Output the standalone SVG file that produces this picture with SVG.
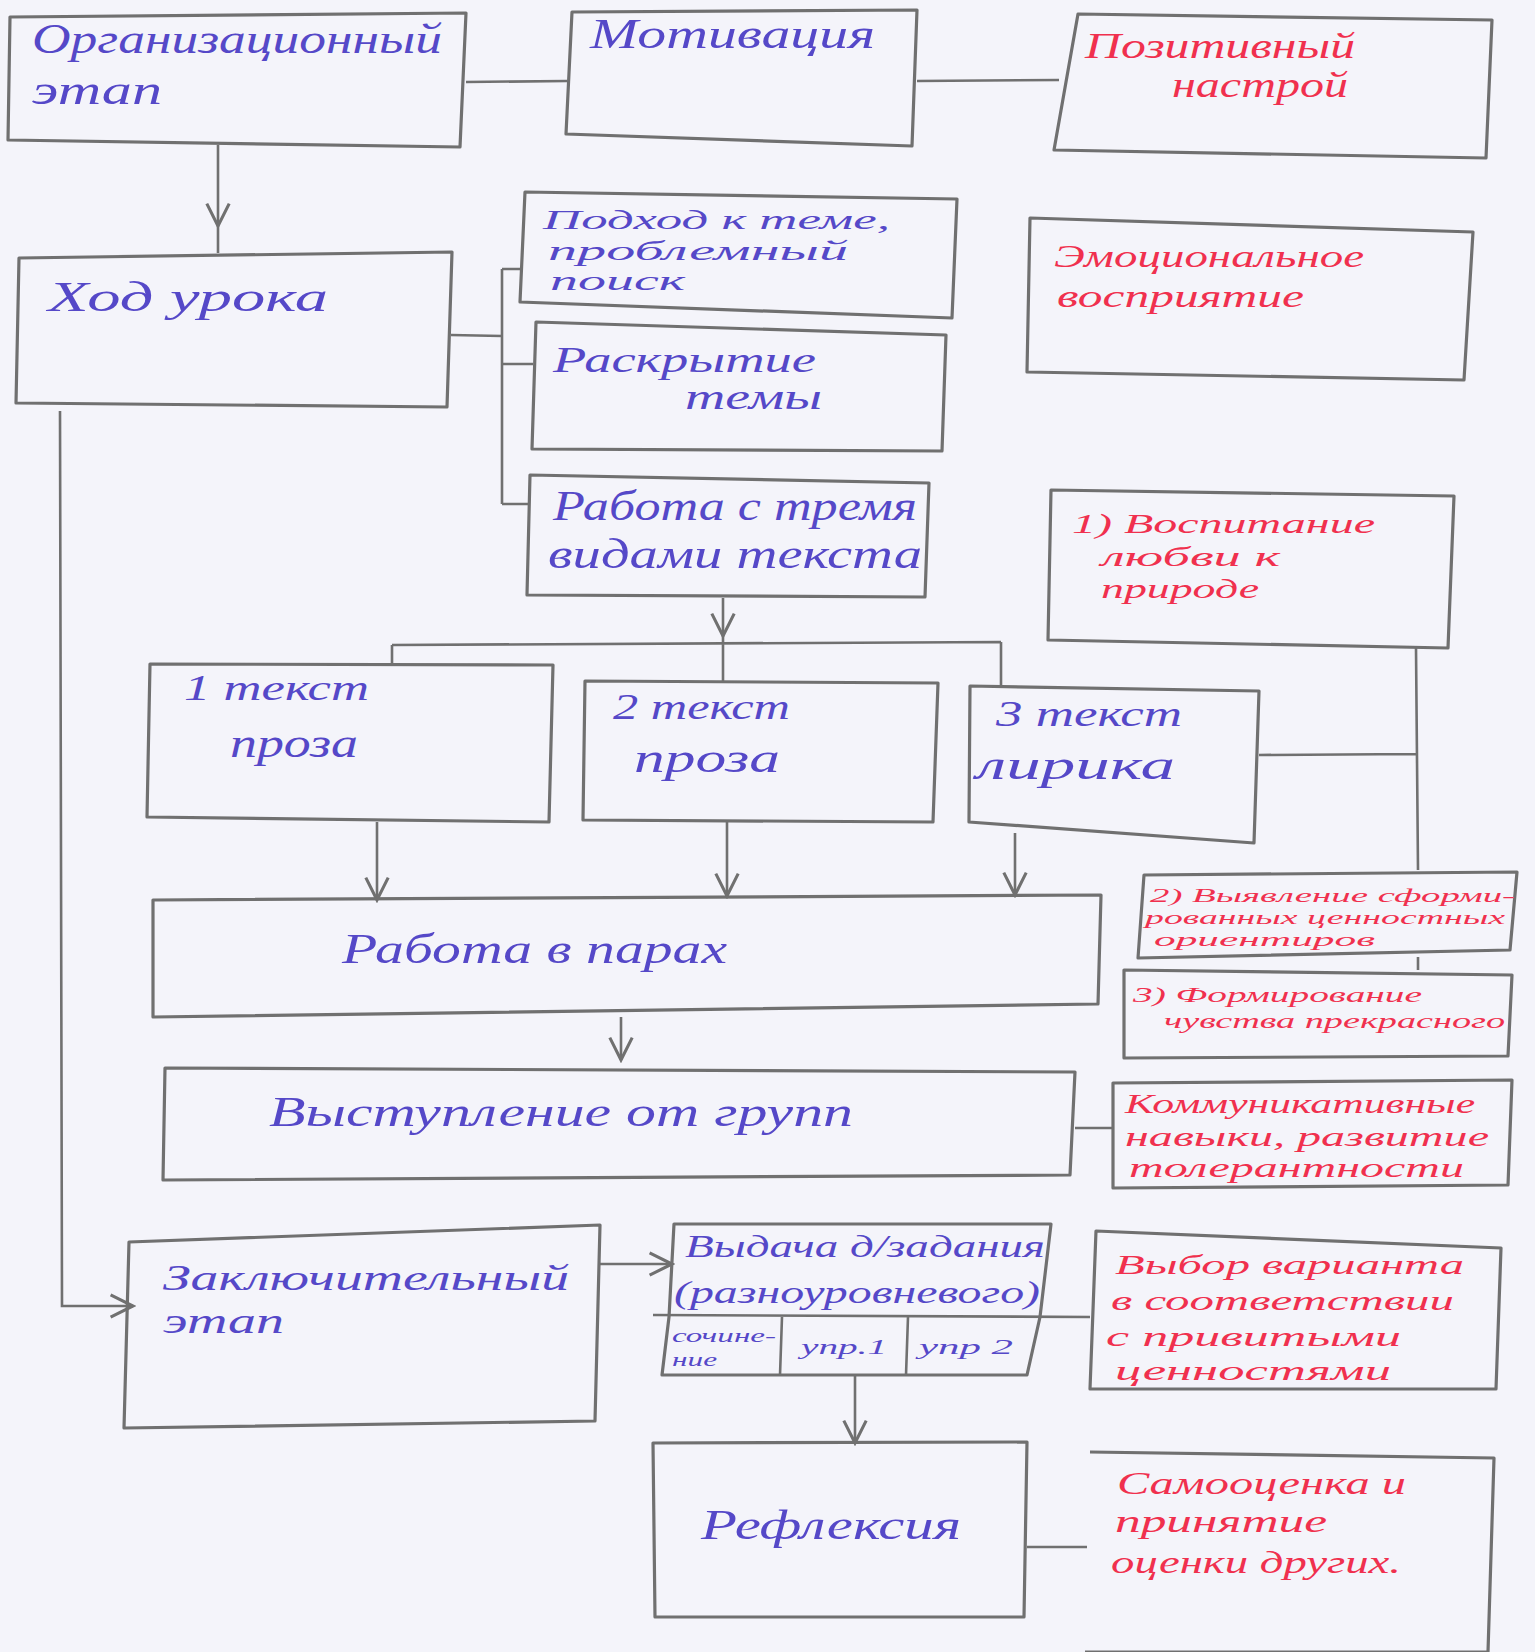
<svg xmlns="http://www.w3.org/2000/svg" width="1535" height="1652" viewBox="0 0 1535 1652">
<defs>
<style>
.box{fill:none;stroke:#707070;stroke-width:3.2;stroke-linejoin:round}
.ln{fill:none;stroke:#707070;stroke-width:2.6}
.t{font-family:"Liberation Serif",serif;font-style:italic}
.b{fill:#5548c8}
.r{fill:#f0304e}
.L{font-size:42px}
.K{font-size:36px}
.M{font-size:31px}
.N{font-size:28px}
.S{font-size:22px}
.X{font-size:19px}
</style>
<marker id="v" viewBox="0 0 20 20" refX="18" refY="10" markerWidth="28" markerHeight="28" markerUnits="userSpaceOnUse" orient="auto">
<path d="M2,2 L18,10 L2,18" fill="none" stroke="#707070" stroke-width="2.2"/>
</marker>
</defs>
<rect width="1535" height="1652" fill="#f4f4fa"/>

<g id="connectors">
<path class="ln" d="M466,82 L567,81"/>
<path class="ln" d="M917,81 L1059,80"/>
<path class="ln" d="M218,145 L218,226" marker-end="url(#v)"/>
<path class="ln" d="M218,226 L218,253"/>
<path class="ln" d="M451,335 L502,336 M502,269 L502,504 M502,269 L522,269 M502,364 L533,364 M502,504 L528,504"/>
<path class="ln" d="M723,598 L723,636" marker-end="url(#v)"/>
<path class="ln" d="M392,645 L1001,642 M392,645 L392,664 M723,636 L723,681 M1001,642 L1001,686"/>
<path class="ln" d="M377,822 L377,900" marker-end="url(#v)"/>
<path class="ln" d="M727,822 L727,896" marker-end="url(#v)"/>
<path class="ln" d="M1015,833 L1015,895" marker-end="url(#v)"/>
<path class="ln" d="M1259,755 L1416,754 M1416,648 L1418,870 M1418,957 L1418,970"/>
<path class="ln" d="M621,1017 L621,1060" marker-end="url(#v)"/>
<path class="ln" d="M1075,1128 L1113,1128"/>
<path class="ln" d="M60,411 L62,1306 L133,1306" marker-end="url(#v)"/>
<path class="ln" d="M600,1264 L672,1264" marker-end="url(#v)"/>
<path class="ln" d="M855,1375 L855,1443" marker-end="url(#v)"/>
<path class="ln" d="M1027,1547 L1087,1547"/>
</g>

<g id="n-org"><path class="box" d="M10,17 L466,13 L460,147 L8,140 Z"/>
<text class="t b L" x="32" y="53" textLength="410" lengthAdjust="spacingAndGlyphs">Организационный</text>
<text class="t b L" x="32" y="104" textLength="130" lengthAdjust="spacingAndGlyphs">этап</text></g>

<g id="n-motiv"><path class="box" d="M572,12 L917,10 L912,146 L566,134 Z"/>
<text class="t b L" x="590" y="48" textLength="285" lengthAdjust="spacingAndGlyphs">Мотивация</text></g>

<g id="n-pozit"><path class="box" d="M1078,14 L1492,20 L1486,158 L1054,150 Z"/>
<text class="t r K" x="1085" y="58" textLength="270" lengthAdjust="spacingAndGlyphs">Позитивный</text>
<text class="t r K" x="1172" y="97" textLength="176" lengthAdjust="spacingAndGlyphs">настрой</text></g>

<g id="n-hod"><path class="box" d="M19,258 L452,252 L447,407 L16,403 Z"/>
<text class="t b L" x="48" y="311" textLength="280" lengthAdjust="spacingAndGlyphs">Ход  урока</text></g>

<g id="n-podhod"><path class="box" d="M525,192 L957,199 L952,318 L520,302 Z"/>
<text class="t b N" x="543" y="229" textLength="347" lengthAdjust="spacingAndGlyphs">Подход к теме,</text>
<text class="t b N" x="548" y="260" textLength="300" lengthAdjust="spacingAndGlyphs">проблемный</text>
<text class="t b N" x="550" y="290" textLength="135" lengthAdjust="spacingAndGlyphs">поиск</text></g>

<g id="n-raskr"><path class="box" d="M536,322 L946,335 L942,451 L532,449 Z"/>
<text class="t b K" x="553" y="372" textLength="263" lengthAdjust="spacingAndGlyphs">Раскрытие</text>
<text class="t b K" x="685" y="409" textLength="137" lengthAdjust="spacingAndGlyphs">темы</text></g>

<g id="n-rab3"><path class="box" d="M530,475 L929,483 L925,597 L527,595 Z"/>
<text class="t b L" x="553" y="520" textLength="364" lengthAdjust="spacingAndGlyphs">Работа с тремя</text>
<text class="t b L" x="548" y="568" textLength="374" lengthAdjust="spacingAndGlyphs">видами текста</text></g>

<g id="n-emoc"><path class="box" d="M1030,218 L1473,232 L1464,380 L1027,372 Z"/>
<text class="t r M" x="1054" y="267" textLength="310" lengthAdjust="spacingAndGlyphs">Эмоциональное</text>
<text class="t r M" x="1057" y="307" textLength="247" lengthAdjust="spacingAndGlyphs">восприятие</text></g>

<g id="n-vosp"><path class="box" d="M1051,490 L1454,496 L1448,648 L1048,640 Z"/>
<text class="t r N" x="1072" y="533" textLength="303" lengthAdjust="spacingAndGlyphs">1) Воспитание</text>
<text class="t r N" x="1101" y="566" textLength="179" lengthAdjust="spacingAndGlyphs">любви к</text>
<text class="t r N" x="1101" y="598" textLength="158" lengthAdjust="spacingAndGlyphs">природе</text></g>

<g id="n-t1"><path class="box" d="M150,664 L553,665 L549,822 L147,817 Z"/>
<text class="t b K" x="184" y="700" textLength="185" lengthAdjust="spacingAndGlyphs">1 текст</text>
<text class="t b L" x="230" y="757" textLength="128" lengthAdjust="spacingAndGlyphs">проза</text></g>

<g id="n-t2"><path class="box" d="M585,681 L938,683 L933,822 L583,820 Z"/>
<text class="t b K" x="613" y="719" textLength="177" lengthAdjust="spacingAndGlyphs">2 текст</text>
<text class="t b L" x="634" y="772" textLength="146" lengthAdjust="spacingAndGlyphs">проза</text></g>

<g id="n-t3"><path class="box" d="M970,686 L1259,691 L1254,843 L969,822 Z"/>
<text class="t b K" x="996" y="726" textLength="186" lengthAdjust="spacingAndGlyphs">3 текст</text>
<text class="t b L" x="976" y="779" textLength="199" lengthAdjust="spacingAndGlyphs">лирика</text></g>

<g id="n-pary"><path class="box" d="M153,900 L1101,895 L1098,1004 L153,1017 Z"/>
<text class="t b L" x="342" y="963" textLength="385" lengthAdjust="spacingAndGlyphs">Работа в парах</text></g>

<g id="n-vyyav"><path class="box" d="M1144,875 L1517,872 L1510,950 L1138,958 Z"/>
<text class="t r X" x="1150" y="902" textLength="365" lengthAdjust="spacingAndGlyphs">2) Выявление сформи-</text>
<text class="t r X" x="1145" y="924" textLength="360" lengthAdjust="spacingAndGlyphs">рованных ценностных</text>
<text class="t r X" x="1154" y="946" textLength="221" lengthAdjust="spacingAndGlyphs">ориентиров</text></g>

<g id="n-form"><path class="box" d="M1124,970 L1512,975 L1508,1056 L1124,1058 Z"/>
<text class="t r S" x="1133" y="1002" textLength="289" lengthAdjust="spacingAndGlyphs">3) Формирование</text>
<text class="t r S" x="1164" y="1028" textLength="341" lengthAdjust="spacingAndGlyphs">чувства прекрасного</text></g>

<g id="n-vyst"><path class="box" d="M165,1068 L1075,1072 L1070,1175 L163,1180 Z"/>
<text class="t b L" x="269" y="1126" textLength="584" lengthAdjust="spacingAndGlyphs">Выступление  от  групп</text></g>

<g id="n-komm"><path class="box" d="M1113,1083 L1512,1080 L1508,1185 L1113,1188 Z"/>
<text class="t r N" x="1125" y="1113" textLength="350" lengthAdjust="spacingAndGlyphs">Коммуникативные</text>
<text class="t r N" x="1125" y="1146" textLength="364" lengthAdjust="spacingAndGlyphs">навыки, развитие</text>
<text class="t r N" x="1129" y="1177" textLength="335" lengthAdjust="spacingAndGlyphs">толерантности</text></g>

<g id="n-zakl"><path class="box" d="M129,1242 L600,1225 L595,1421 L124,1428 Z"/>
<text class="t b K" x="163" y="1290" textLength="406" lengthAdjust="spacingAndGlyphs">Заключительный</text>
<text class="t b K" x="163" y="1333" textLength="121" lengthAdjust="spacingAndGlyphs">этап</text></g>

<g id="n-vydacha"><path class="box" d="M674,1224 L1051,1224 L1040,1317 L1027,1375 L662,1375 L669,1317 Z"/>
<path class="ln" d="M653,1315 L1090,1317 M782,1317 L780,1375 M908,1317 L906,1375"/>
<text class="t b M" x="685" y="1257" textLength="360" lengthAdjust="spacingAndGlyphs">Выдача д/задания</text>
<text class="t b M" x="674" y="1303" textLength="366" lengthAdjust="spacingAndGlyphs">(разноуровневого)</text>
<text class="t b X" x="672" y="1342" textLength="104" lengthAdjust="spacingAndGlyphs">сочине-</text>
<text class="t b X" x="672" y="1366" textLength="45" lengthAdjust="spacingAndGlyphs">ние</text>
<text class="t b S" x="801" y="1354" textLength="86" lengthAdjust="spacingAndGlyphs">упр.1</text>
<text class="t b S" x="919" y="1354" textLength="94" lengthAdjust="spacingAndGlyphs">упр 2</text></g>

<g id="n-vybor"><path class="box" d="M1096,1231 L1501,1248 L1496,1389 L1090,1389 Z"/>
<text class="t r N" x="1115" y="1274" textLength="349" lengthAdjust="spacingAndGlyphs">Выбор варианта</text>
<text class="t r N" x="1111" y="1310" textLength="343" lengthAdjust="spacingAndGlyphs">в соответствии</text>
<text class="t r N" x="1106" y="1346" textLength="295" lengthAdjust="spacingAndGlyphs">с привитыми</text>
<text class="t r N" x="1115" y="1380" textLength="276" lengthAdjust="spacingAndGlyphs">ценностями</text></g>

<g id="n-refl"><path class="box" d="M653,1443 L1027,1442 L1024,1617 L655,1617 Z"/>
<text class="t b L" x="701" y="1539" textLength="260" lengthAdjust="spacingAndGlyphs">Рефлексия</text></g>

<g id="n-samo"><path class="box" d="M1090,1452 L1494,1458 L1488,1652 L1085,1652"/>
<text class="t r M" x="1117" y="1494" textLength="289" lengthAdjust="spacingAndGlyphs">Самооценка и</text>
<text class="t r M" x="1115" y="1532" textLength="212" lengthAdjust="spacingAndGlyphs">принятие</text>
<text class="t r M" x="1111" y="1573" textLength="290" lengthAdjust="spacingAndGlyphs">оценки других.</text></g>
</svg>
